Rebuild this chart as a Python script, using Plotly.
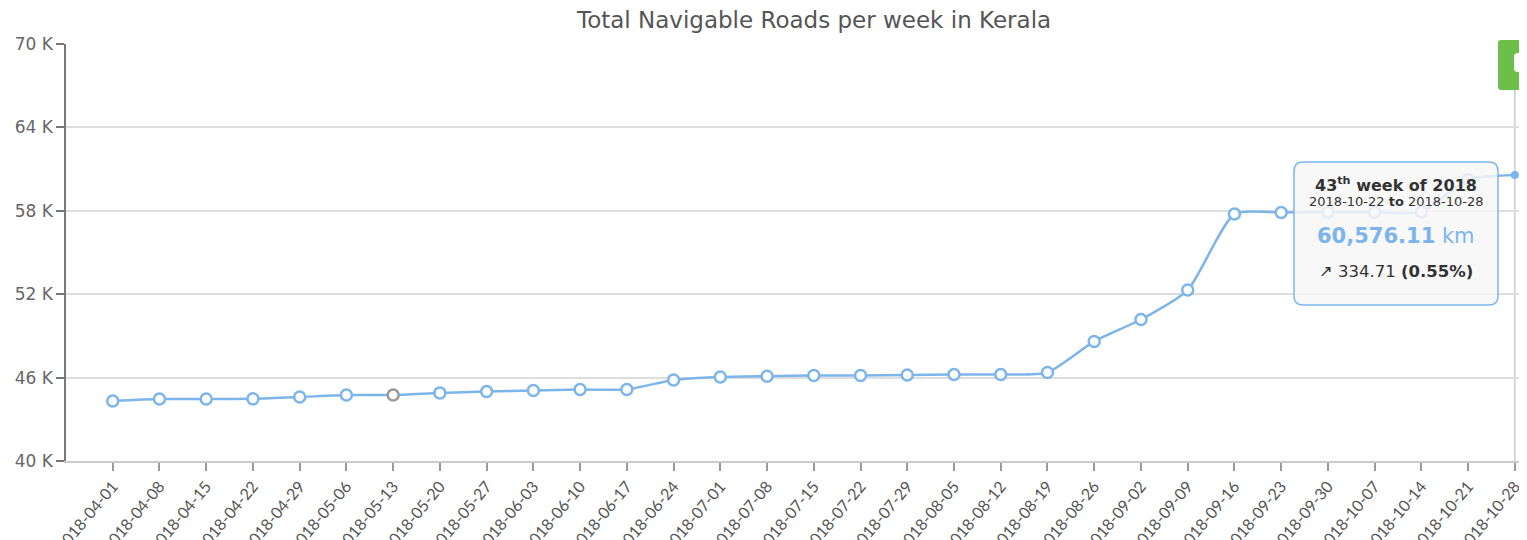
import plotly.graph_objects as go

weeks = ["2018-04-01", "2018-04-08", "2018-04-15", "2018-04-22", "2018-04-29", "2018-05-06",
         "2018-05-13", "2018-05-20", "2018-05-27", "2018-06-03", "2018-06-10", "2018-06-17",
         "2018-06-24", "2018-07-01", "2018-07-08", "2018-07-15", "2018-07-22", "2018-07-29",
         "2018-08-05", "2018-08-12", "2018-08-19", "2018-08-26", "2018-09-02", "2018-09-09",
         "2018-09-16", "2018-09-23", "2018-09-30", "2018-10-07", "2018-10-14", "2018-10-21",
         "2018-10-28"]
road_km = [44320, 44460, 44460, 44470, 44600, 44750,
           44750, 44900, 45000, 45070, 45140, 45150,
           45830, 46040, 46100, 46150, 46150, 46190,
           46220, 46220, 46370, 48600, 50180, 52300,
           57770, 57880, 57900, 57900, 57920, 60241.40,
           60576.11]
y_ticks = [40000, 46000, 52000, 58000, 64000, 70000]
y_tick_text = ["40 K", "46 K", "52 K", "58 K", "64 K", "70 K"]

BLUE = "#7cb5ec"
n = len(weeks)
line_colors = [BLUE] * n
line_colors[6] = "#999999"
fills = ["#ffffff"] * n
sizes = [11] * n
fills[-1] = BLUE
sizes[-1] = 8
line_widths = [2.5] * n
line_widths[-1] = 0

fig = go.Figure()
fig.add_trace(go.Scatter(
    x=weeks, y=road_km, mode="lines+markers",
    line=dict(color=BLUE, width=2.5, shape="spline", smoothing=0.6),
    marker=dict(symbol="circle", size=sizes, color=fills, opacity=1,
                line=dict(color=line_colors, width=line_widths)),
    hoverinfo="skip", showlegend=False, cliponaxis=False,
))

# page body has an 8px margin; positions below are in page pixels
OFF = 8
W, H = 1527, 540
L, R, T, B = 66 - OFF, OFF, 44 - OFF, H + OFF - 461
pw, ph = W - L - R, H - T - B


def px_x(p):
    return (p - OFF - L) / pw


def px_y(p):
    return (H - B - (p - OFF)) / ph


def rounded_rect(x0, y0, x1, y1, r):
    rx = r / pw
    ry = r / ph
    X0, X1 = px_x(x0), px_x(x1)
    Y0, Y1 = px_y(y0), px_y(y1)
    return (f"M {X0 + rx},{Y0} L {X1 - rx},{Y0} Q {X1},{Y0} {X1},{Y0 - ry} "
            f"L {X1},{Y1 + ry} Q {X1},{Y1} {X1 - rx},{Y1} L {X0 + rx},{Y1} "
            f"Q {X0},{Y1} {X0},{Y1 + ry} L {X0},{Y0 - ry} Q {X0},{Y0} {X0 + rx},{Y0} Z")


shapes = [
    dict(type="line", xref="x", yref="paper", x0=n - 1, x1=n - 1, y0=0, y1=px_y(90),
         line=dict(color="#cccccc", width=1.5), layer="below"),
    dict(type="path", xref="paper", yref="paper", path=rounded_rect(1294, 162, 1498, 305, 9),
         fillcolor="rgba(247,247,247,0.85)", line=dict(color=BLUE, width=1.5), layer="above"),
    dict(type="path", xref="paper", yref="paper", path=rounded_rect(1498, 40, 1560, 90, 3),
         fillcolor="#6cc04a", line=dict(width=0), layer="above"),
    dict(type="path", xref="paper", yref="paper", path=rounded_rect(1514, 53, 1545, 72, 4),
         fillcolor="#ffffff", line=dict(width=0), layer="above"),
]

FONT = "DejaVu Sans, Verdana, sans-serif"
cx = px_x(1396)
annotations = [
    dict(text="<b>43<sup>th</sup> week of 2018</b>", x=cx, y=px_y(184), xref="paper", yref="paper",
         showarrow=False, font=dict(family=FONT, size=16, color="#333333"),
         xanchor="center", yanchor="middle"),
    dict(text="2018-10-22 <b>to</b> 2018-10-28", x=cx, y=px_y(201), xref="paper", yref="paper",
         showarrow=False, font=dict(family=FONT, size=13, color="#333333"),
         xanchor="center", yanchor="middle"),
    dict(text="<b>60,576.11</b> km", x=cx, y=px_y(236), xref="paper", yref="paper",
         showarrow=False, font=dict(family=FONT, size=21, color=BLUE),
         xanchor="center", yanchor="middle"),
    dict(text="↗ 334.71 <b>(0.55%)</b>", x=cx, y=px_y(271), xref="paper", yref="paper",
         showarrow=False, font=dict(family=FONT, size=16.5, color="#333333"),
         xanchor="center", yanchor="middle"),
    dict(text="<b>S</b>", x=px_x(1522), y=px_y(62), xref="paper", yref="paper",
         showarrow=False, font=dict(family=FONT, size=13, color="#6cc04a"),
         xanchor="center", yanchor="middle"),
    # chart title
    dict(text="Total Navigable Roads per week in Kerala", x=px_x(813), y=px_y(20),
         xref="paper", yref="paper", showarrow=False,
         font=dict(family=FONT, size=23, color="#555555"),
         xanchor="center", yanchor="middle"),
]

fig.update_layout(
    width=W, height=H,
    margin=dict(l=L, r=R, t=T, b=B, autoexpand=False),
    paper_bgcolor="#ffffff", plot_bgcolor="#ffffff",
    xaxis=dict(type="category", range=[-1.0, 30.26], tickangle=-50, automargin=False,
               showgrid=False, showline=True, linecolor="#cccccc", linewidth=1.5,
               ticks="outside", ticklen=8, tickcolor="#999999", tickwidth=1.5,
               tickfont=dict(family="Lato, Open Sans, sans-serif", size=16, color="#555555"),
               fixedrange=True),
    yaxis=dict(range=[40000, 70000], tickvals=y_ticks, ticktext=y_tick_text, automargin=False,
               showgrid=True, gridcolor="#dddddd", gridwidth=1.5,
               showline=True, linecolor="#777777", linewidth=1.5,
               ticks="outside", ticklen=8, tickcolor="#777777", tickwidth=1.5,
               tickfont=dict(family=FONT, size=17, color="#666666"),
               zeroline=False, fixedrange=True),
    shapes=shapes, annotations=annotations,
)

fig.write_html("out.html")
